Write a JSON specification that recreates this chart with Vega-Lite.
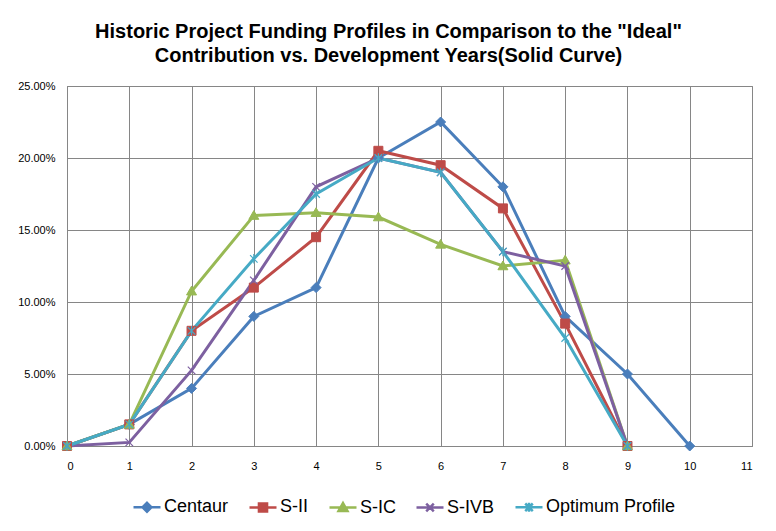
{
  "$schema": "https://vega.github.io/schema/vega-lite/v6.json",
  "width": 685,
  "height": 360,
  "autosize": {"type": "none"},
  "padding": {"left": 67, "top": 86, "right": 24, "bottom": 85},
  "background": "white",
  "title": {
    "text": ["Historic Project Funding Profiles in Comparison to the \"Ideal\"", "Contribution vs. Development Years(Solid Curve)"],
    "font": "Liberation Sans",
    "fontSize": 20,
    "fontWeight": "bold",
    "color": "black",
    "anchor": "middle",
    "dx": -21,
    "offset": 14,
    "lineHeight": 24
  },
  "config": {
    "view": {"stroke": "#868686"},
    "axis": {
      "gridColor": "#868686",
      "gridOpacity": 1,
      "gridWidth": 1,
      "domainColor": "#868686",
      "domainWidth": 1,
      "labelFont": "Liberation Sans",
      "labelFontSize": 11,
      "labelColor": "black",
      "ticks": false
    }
  },
  "data": {
    "values": [
      {"series": "Centaur", "year": 0, "value": 0},
      {"series": "Centaur", "year": 1, "value": 0.015},
      {"series": "Centaur", "year": 2, "value": 0.04},
      {"series": "Centaur", "year": 3, "value": 0.09},
      {"series": "Centaur", "year": 4, "value": 0.11},
      {"series": "Centaur", "year": 5, "value": 0.20},
      {"series": "Centaur", "year": 6, "value": 0.225},
      {"series": "Centaur", "year": 7, "value": 0.18},
      {"series": "Centaur", "year": 8, "value": 0.09},
      {"series": "Centaur", "year": 9, "value": 0.05},
      {"series": "Centaur", "year": 10, "value": 0},
      {"series": "S-II", "year": 0, "value": 0},
      {"series": "S-II", "year": 1, "value": 0.015},
      {"series": "S-II", "year": 2, "value": 0.08},
      {"series": "S-II", "year": 3, "value": 0.11},
      {"series": "S-II", "year": 4, "value": 0.145},
      {"series": "S-II", "year": 5, "value": 0.205},
      {"series": "S-II", "year": 6, "value": 0.195},
      {"series": "S-II", "year": 7, "value": 0.165},
      {"series": "S-II", "year": 8, "value": 0.085},
      {"series": "S-II", "year": 9, "value": 0},
      {"series": "S-IC", "year": 0, "value": 0},
      {"series": "S-IC", "year": 1, "value": 0.015},
      {"series": "S-IC", "year": 2, "value": 0.1075},
      {"series": "S-IC", "year": 3, "value": 0.16},
      {"series": "S-IC", "year": 4, "value": 0.162},
      {"series": "S-IC", "year": 5, "value": 0.159},
      {"series": "S-IC", "year": 6, "value": 0.14},
      {"series": "S-IC", "year": 7, "value": 0.125},
      {"series": "S-IC", "year": 8, "value": 0.129},
      {"series": "S-IC", "year": 9, "value": 0},
      {"series": "S-IVB", "year": 0, "value": 0},
      {"series": "S-IVB", "year": 1, "value": 0.0025},
      {"series": "S-IVB", "year": 2, "value": 0.0525},
      {"series": "S-IVB", "year": 3, "value": 0.115},
      {"series": "S-IVB", "year": 4, "value": 0.18},
      {"series": "S-IVB", "year": 5, "value": 0.20},
      {"series": "S-IVB", "year": 6, "value": 0.19},
      {"series": "S-IVB", "year": 7, "value": 0.135},
      {"series": "S-IVB", "year": 8, "value": 0.125},
      {"series": "S-IVB", "year": 9, "value": 0},
      {"series": "Optimum Profile", "year": 0, "value": 0},
      {"series": "Optimum Profile", "year": 1, "value": 0.015},
      {"series": "Optimum Profile", "year": 2, "value": 0.08},
      {"series": "Optimum Profile", "year": 3, "value": 0.13},
      {"series": "Optimum Profile", "year": 4, "value": 0.175},
      {"series": "Optimum Profile", "year": 5, "value": 0.20},
      {"series": "Optimum Profile", "year": 6, "value": 0.19},
      {"series": "Optimum Profile", "year": 7, "value": 0.135},
      {"series": "Optimum Profile", "year": 8, "value": 0.075},
      {"series": "Optimum Profile", "year": 9, "value": 0}
    ]
  },
  "encoding": {
    "x": {
      "field": "year",
      "type": "quantitative",
      "scale": {"domain": [0, 11], "nice": false, "zero": false},
      "axis": {"values": [0, 1, 2, 3, 4, 5, 6, 7, 8, 9, 10, 11], "format": "d", "title": null, "grid": true, "labelPadding": 14}
    },
    "y": {
      "field": "value",
      "type": "quantitative",
      "scale": {"domain": [0, 0.25], "nice": false},
      "axis": {"values": [0, 0.05, 0.1, 0.15, 0.2, 0.25], "format": ".2%", "title": null, "grid": true, "labelPadding": 12}
    }
  },
  "layer": [
    {
      "mark": {"type": "line", "strokeWidth": 3},
      "encoding": {
        "color": {
          "field": "series",
          "type": "nominal",
          "scale": {
            "domain": ["Centaur", "S-II", "S-IC", "S-IVB", "Optimum Profile"],
            "range": ["#4A7EBB", "#BE4B48", "#98B954", "#7D60A0", "#46AAC5"]
          },
          "legend": {
            "orient": "none",
            "legendX": 65,
            "legendY": 406,
            "direction": "horizontal",
            "title": null,
            "labelFont": "Liberation Sans",
            "labelFontSize": 18,
            "labelColor": "black",
            "symbolSize": 729,
            "symbolStrokeWidth": 2.5,
            "labelOffset": 2,
            "columnPadding": 15,
            "padding": 0,
            "encode": {
              "symbols": {
                "update": {
                  "shape": {"signal": "datum.value === 'Centaur' ? 'M-1,0H1M0,-0.33L0.33,0L0,0.33L-0.33,0Z' : datum.value === 'S-II' ? 'M-1,0H1M-0.3,-0.3H0.3V0.3H-0.3Z' : datum.value === 'S-IC' ? 'M-1,0H1M0,-0.33L0.33,0.25L-0.33,0.25Z' : datum.value === 'S-IVB' ? 'M-1,0H1M-0.28,-0.28L0.28,0.28M0.28,-0.28L-0.28,0.28' : 'M-1,0H1M-0.28,-0.28L0.28,0.28M0.28,-0.28L-0.28,0.28M0,-0.33L0,0.33'"},
                  "fill": {"scale": "color", "field": "value"},
                  "stroke": {"scale": "color", "field": "value"},
                  "strokeWidth": {"value": 2.5},
                  "opacity": {"value": 1}
                }
              }
            }
          }
        }
      }
    },
    {
      "transform": [{"filter": "datum.series === 'Centaur'"}],
      "mark": {"type": "point", "shape": "M0,-1L1,0L0,1L-1,0Z", "filled": true, "size": 100, "color": "#4A7EBB", "stroke": "#4A7EBB", "strokeWidth": 1, "opacity": 1}
    },
    {
      "transform": [{"filter": "datum.series === 'S-II'"}],
      "mark": {"type": "point", "shape": "M-0.9,-0.9H0.9V0.9H-0.9Z", "filled": true, "size": 100, "color": "#BE4B48", "stroke": "#BE4B48", "strokeWidth": 1, "opacity": 1}
    },
    {
      "transform": [{"filter": "datum.series === 'S-IC'"}],
      "mark": {"type": "point", "shape": "M0,-1L1,0.75L-1,0.75Z", "filled": true, "size": 100, "color": "#98B954", "stroke": "#98B954", "strokeWidth": 1, "opacity": 1}
    },
    {
      "transform": [{"filter": "datum.series === 'S-IVB'"}],
      "mark": {"type": "point", "shape": "M-0.75,-0.75L0.75,0.75M0.75,-0.75L-0.75,0.75", "filled": false, "size": 100, "color": "#7D60A0", "strokeWidth": 1.2, "opacity": 1}
    },
    {
      "transform": [{"filter": "datum.series === 'Optimum Profile'"}],
      "mark": {"type": "point", "shape": "M-0.75,-0.75L0.75,0.75M0.75,-0.75L-0.75,0.75M0,-0.95L0,0.95", "filled": false, "size": 100, "color": "#46AAC5", "strokeWidth": 1.2, "opacity": 1}
    }
  ]
}
